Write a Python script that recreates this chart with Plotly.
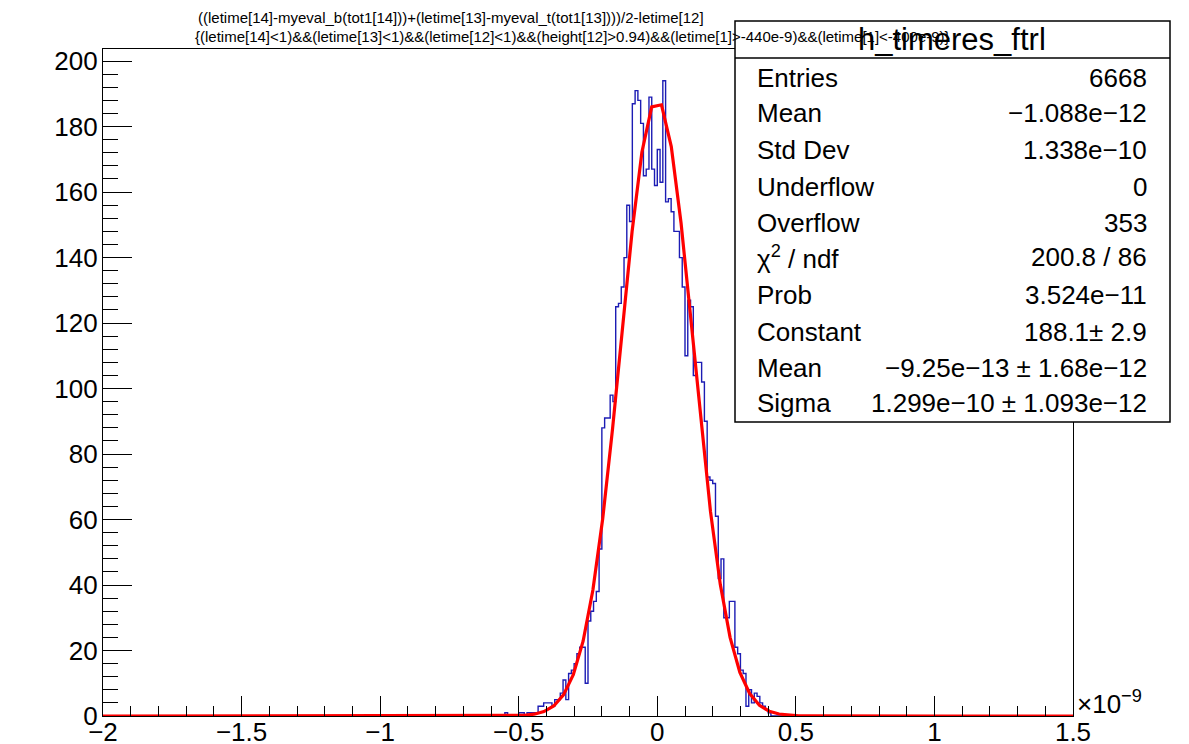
import numpy as np
import plotly.graph_objects as go

# ---------------- data (x in units of 1e-9 s) ----------------
x_min, x_max, n_bins = -2.0, 1.5, 350          # histogram binning
first_filled_bin = -0.55                         # low edge of first listed bin
counts = [1, 0, 0, 0, 0, 1, 1, 0, 1, 1, 1, 1, 3, 3, 4, 4, 4, 3, 5, 5,
          7, 11, 5, 13, 14, 16, 19, 21, 21, 10, 29, 32, 35, 38, 51, 88, 91, 91, 98, 96,
          125, 126, 131, 140, 156, 151, 187, 191, 188, 181, 165, 167, 189, 167, 162,
          173, 163, 194, 157, 158, 154, 148, 148, 140, 131, 110, 127, 125, 104, 108,
          108, 102, 90, 73, 72, 71, 61, 42, 48, 30, 30, 35, 35, 21, 19, 14, 13, 3,
          8, 4, 7, 6, 4, 3, 2, 1]

# fit parameters (gaus), converted to 1e-9 units
fit_constant = 188.1
fit_mean = -9.25e-13 * 1e9
fit_sigma = 1.299e-10 * 1e9
fit_npx = 100

x_tick_vals = [-2, -1.5, -1, -0.5, 0, 0.5, 1, 1.5]
x_tick_labels = ["−2", "−1.5", "−1", "−0.5", "0", "0.5", "1", "1.5"]

title_line1 = "((letime[14]-myeval_b(tot1[14]))+(letime[13]-myeval_t(tot1[13])))/2-letime[12]"
title_line2 = ("{(letime[14]<1)&&(letime[13]<1)&&(letime[12]<1)&&(height[12]>0.94)"
               "&&(letime[1]>-440e-9)&&(letime[1]<-400e-9)}")
hist_name = "h_timeres_ftrl"
stat_labels = ["Entries", "Mean", "Std Dev", "Underflow", "Overflow",
               "χ<sup>2</sup> / ndf", "Prob", "Constant", "Mean", "Sigma"]
stat_values = ["6668", "−1.088e−12", "1.338e−10", "0", "353", "200.8 / 86",
               "3.524e−11", "188.1± 2.9", "−9.25e−13 ± 1.68e−12", "1.299e−10 ± 1.093e−12"]

# ---------------- build histogram ----------------
bw = (x_max - x_min) / n_bins
edges = np.round(x_min + bw * np.arange(n_bins + 1), 6)
full = np.zeros(n_bins)
i0 = int(round((first_filled_bin - x_min) / bw))
full[i0:i0 + len(counts)] = counts
step_y = np.append(full, full[-1])

fx = np.linspace(x_min, x_max, fit_npx)
fy = fit_constant * np.exp(-0.5 * ((fx - fit_mean) / fit_sigma) ** 2)

# page coordinates (the page body has an 8px margin)
OFF = 8
W, H = 1189 - OFF, 744 - OFF
L, R, T, B = 103 - OFF, 1073 - OFF, 49 - OFF, 716 - OFF


def px(x):
    return (x - OFF - L) / (R - L)


def py(y):
    return (B - (y - OFF)) / (B - T)


fig = go.Figure()
fig.add_trace(go.Scatter(x=edges, y=step_y, mode="lines", line_shape="hv",
                         line=dict(color="#1c1cb4", width=1.4), hoverinfo="skip"))
fig.add_trace(go.Scatter(x=fx, y=fy, mode="lines",
                         line=dict(color="#ff0000", width=3.2), hoverinfo="skip"))

font = "Liberation Sans, Arial, Helvetica, sans-serif"

fig.update_layout(
    width=W, height=H,
    margin=dict(l=L, r=W - R, t=T, b=H - B, autoexpand=False),
    paper_bgcolor="white", plot_bgcolor="white",
    showlegend=False,
    font=dict(family=font, color="black"),
    xaxis=dict(range=[x_min, x_max], tickmode="array",
               tickvals=x_tick_vals, ticktext=x_tick_labels, automargin=False,
               ticks="inside", ticklen=20, tickwidth=1.2, tickcolor="black",
               ticklabelstandoff=-7,
               minor=dict(dtick=0.1, ticks="inside", ticklen=10, tickwidth=1.2, tickcolor="black"),
               showline=True, linecolor="black", linewidth=1.2, mirror=True,
               showgrid=False, zeroline=False,
               tickfont=dict(size=26, family=font, color="black")),
    yaxis=dict(range=[0, 203.7], dtick=20, tick0=0, automargin=False,
               ticks="inside", ticklen=29, tickwidth=1.2, tickcolor="black",
               ticklabelstandoff=-1,
               minor=dict(dtick=4, ticks="inside", ticklen=15, tickwidth=1.2, tickcolor="black"),
               showline=True, linecolor="black", linewidth=1.2, mirror=True,
               showgrid=False, zeroline=False,
               tickfont=dict(size=26, family=font, color="black")),
)

# stats box
fig.add_shape(type="rect", xref="paper", yref="paper",
              x0=px(735), x1=px(1170), y0=py(422), y1=py(21),
              line=dict(color="black", width=1.5), fillcolor="white", layer="above")
fig.add_shape(type="line", xref="paper", yref="paper",
              x0=px(735), x1=px(1170), y0=py(58), y1=py(58),
              line=dict(color="black", width=1.5), layer="above")

ann = []
ann.append(dict(x=px(952), y=py(40), text=hist_name, font=dict(size=31),
                xanchor="center", yanchor="middle"))
row_y = [78, 113, 150, 187, 223, 257, 295, 332, 368, 403]
for lab, val, yy in zip(stat_labels, stat_values, row_y):
    ann.append(dict(x=px(755), y=py(yy), text=lab, font=dict(size=26),
                    xanchor="left", yanchor="middle"))
    ann.append(dict(x=px(1149), y=py(yy), text=val, font=dict(size=26),
                    xanchor="right", yanchor="middle"))
ann.append(dict(x=px(1075), y=py(702), text="×10<sup>−9</sup>", font=dict(size=26),
                xanchor="left", yanchor="middle"))
ann.append(dict(x=px(196), y=py(17), text=title_line1, font=dict(size=15),
                xanchor="left", yanchor="middle"))
ann.append(dict(x=px(193), y=py(37), text=title_line2, font=dict(size=15),
                xanchor="left", yanchor="middle"))
for a in ann:
    a.update(xref="paper", yref="paper", showarrow=False,
             font=dict(family=font, color="black", size=a["font"]["size"]))
fig.update_layout(annotations=ann)

fig.write_html("out.html")
